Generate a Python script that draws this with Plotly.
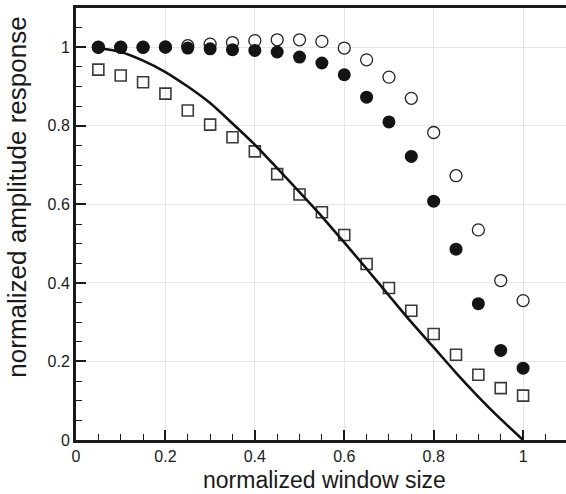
import plotly.graph_objects as go

# Normalized window sizes shared by every series
window_size = [0.05, 0.10, 0.15, 0.20, 0.25, 0.30, 0.35, 0.40, 0.45, 0.50,
               0.55, 0.60, 0.65, 0.70, 0.75, 0.80, 0.85, 0.90, 0.95, 1.00]

# Measured amplitude responses
open_circle = [1.000, 1.000, 1.000, 1.001, 1.004, 1.008, 1.012, 1.017, 1.019, 1.019,
               1.015, 0.998, 0.968, 0.924, 0.870, 0.783, 0.673, 0.535, 0.406, 0.355]
filled_circle = [1.000, 1.000, 1.000, 1.000, 0.998, 0.996, 0.994, 0.992, 0.988, 0.975,
                 0.960, 0.930, 0.873, 0.810, 0.722, 0.608, 0.486, 0.347, 0.228, 0.183]
open_square = [0.943, 0.928, 0.911, 0.882, 0.839, 0.803, 0.771, 0.735, 0.677, 0.625,
               0.580, 0.522, 0.448, 0.387, 0.329, 0.270, 0.217, 0.166, 0.132, 0.113]

# Theoretical response curve
curve = [0.998, 0.988, 0.966, 0.937, 0.900, 0.858, 0.806, 0.752, 0.692, 0.631,
         0.569, 0.503, 0.436, 0.368, 0.300, 0.236, 0.171, 0.110, 0.053, 0.000]

x_ticks = [0, 0.2, 0.4, 0.6, 0.8, 1.0]
x_tick_text = ["0", "0.2", "0.4", "0.6", "0.8", "1"]
y_ticks = [0, 0.2, 0.4, 0.6, 0.8, 1.0]
y_tick_text = ["0", "0.2", "0.4", "0.6", "0.8", "1"]

FONT = "Liberation Sans, Arial, Helvetica, sans-serif"
INK = "#1a1a1a"

fig = go.Figure()

fig.add_trace(go.Scatter(
    x=window_size, y=open_circle, mode="markers",
    marker=dict(symbol="circle-open", size=12, color="#222222",
                line=dict(width=1.3, color="#222222")),
    showlegend=False))

fig.add_trace(go.Scatter(
    x=window_size, y=filled_circle, mode="markers",
    marker=dict(symbol="circle", size=13, color="#141414",
                line=dict(width=0)),
    showlegend=False))

fig.add_trace(go.Scatter(
    x=window_size, y=open_square, mode="markers",
    marker=dict(symbol="square-open", size=11, color="#3a3a3a",
                line=dict(width=1.6, color="#3a3a3a")),
    showlegend=False))

fig.add_trace(go.Scatter(
    x=window_size, y=curve, mode="lines",
    line=dict(color="#111111", width=2.6, shape="spline", smoothing=0.6),
    showlegend=False))

axis_common = dict(
    showline=True, linewidth=3, linecolor=INK,
    showgrid=True, gridcolor="#e6e6e6", gridwidth=1,
    zeroline=False,
    ticks="inside", ticklen=10, tickwidth=2, tickcolor=INK,
    tickfont=dict(family=FONT, size=16, color=INK),
    minor=dict(ticks="inside", ticklen=6, tickwidth=1, tickcolor=INK,
               dtick=0.05, showgrid=False),
)

fig.update_xaxes(range=[0, 1.096], tickvals=x_ticks, ticktext=x_tick_text,
                 mirror=True, **axis_common)
fig.update_yaxes(range=[0, 1.1], tickvals=y_ticks, ticktext=y_tick_text,
                 mirror=False, **axis_common)

fig.update_layout(
    width=566, height=494,
    margin=dict(l=76, r=0, t=8, b=54, pad=0),
    plot_bgcolor="white", paper_bgcolor="white",
    font=dict(family=FONT, color=INK),
    annotations=[
        dict(text="normalized window size", xref="paper", yref="paper",
             x=0.508, y=-0.0935, xanchor="center", yanchor="middle",
             showarrow=False, font=dict(family=FONT, size=23, color=INK)),
        dict(text="normalized amplitude response", xref="paper", yref="paper",
             x=-0.1204, y=0.561, xanchor="center", yanchor="middle",
             textangle=-90, showarrow=False,
             font=dict(family=FONT, size=26, color=INK)),
    ],
)

fig.write_html("out.html")
